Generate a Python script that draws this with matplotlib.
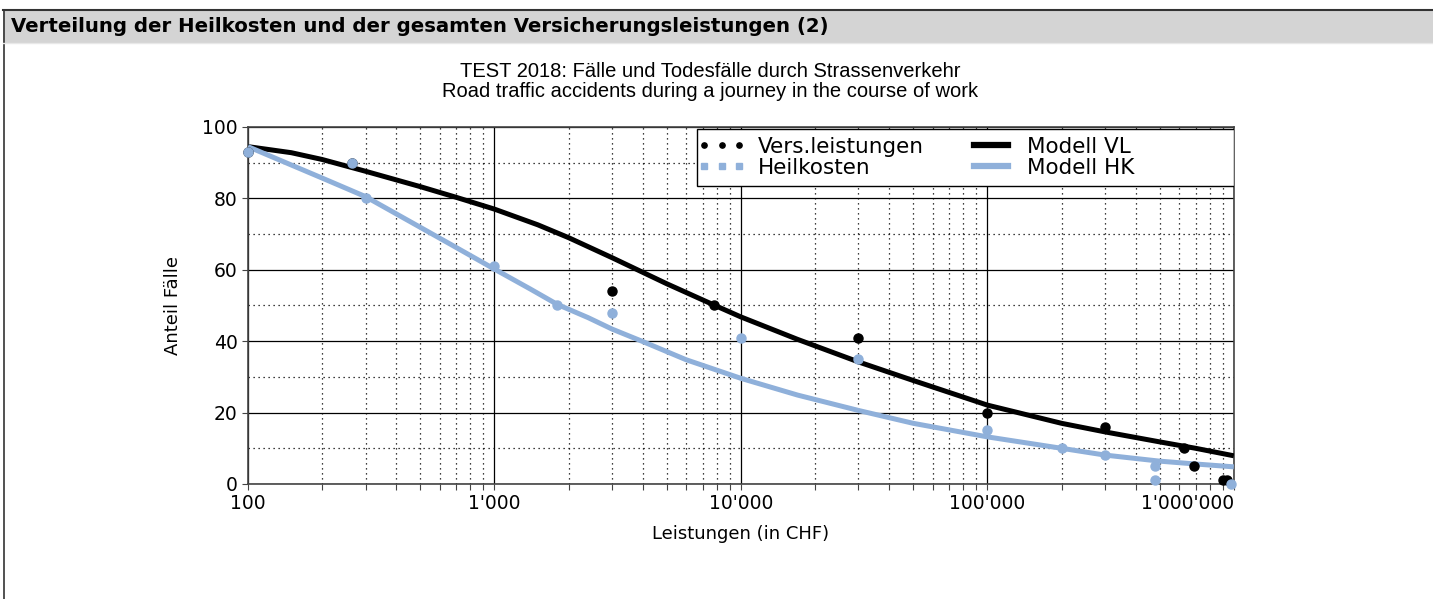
import matplotlib.pyplot as plt
from matplotlib.lines import Line2D
from matplotlib.patches import Rectangle
from matplotlib.ticker import FixedLocator, NullFormatter

# Beobachtete Werte (Anteil Fälle in %)
vl_x = [100, 265, 3000, 7800, 30000, 100000, 300000, 630000, 690000, 900000, 940000]
vl_y = [93, 90, 54, 50, 41, 20, 16, 10, 5, 1, 1]

hk_x = [100, 265, 300, 1000, 1800, 3000, 10000, 30000, 100000, 200000, 300000, 480000, 480000, 970000]
hk_y = [93, 90, 80, 61, 50, 48, 41, 35, 15, 10, 8, 5, 1, 0]

# Modellkurven
mvl_x = [100, 150, 200, 300, 500, 700, 1000, 1500, 2000, 3000, 5000, 7800, 10000, 17000,
         30000, 50000, 100000, 200000, 300000, 500000, 700000, 1000000]
mvl_y = [94.5, 92.8, 90.9, 87.6, 83.3, 80.3, 77.0, 72.6, 69.0, 63.4, 56.1, 50.1, 46.8, 40.5,
         34.2, 29, 22.1, 17, 14.6, 11.8, 10, 7.9]
mhk_x = [100, 200, 300, 650, 1000, 1400, 1800, 2400, 3000, 4000, 6000, 10000, 17000,
         30000, 50000, 100000, 200000, 300000, 500000, 700000, 1000000]
mhk_y = [94.5, 85.7, 80.5, 67.5, 60.2, 54.6, 50.3, 46.6, 43.4, 39.9, 34.8, 29.6, 24.9,
         20.6, 17, 13.2, 10, 8.1, 6.4, 5.6, 4.8]

xticks = [100, 1000, 10000, 100000, 1000000]
xlabels = ["100", "1'000", "10'000", "100'000", "1'000'000"]
yticks = [0, 20, 40, 60, 80, 100]

blue = '#8fb0da'

fig = plt.figure(figsize=(14.33, 5.99), dpi=100)

# Kopfzeile
fig.patches.append(Rectangle((0.002, 0.928), 1.0, 0.055, transform=fig.transFigure,
                             facecolor='#d4d4d4', edgecolor='none'))
fig.add_artist(Line2D([0.002, 1.0], [0.983, 0.983], color='#333333', lw=1.5))
fig.add_artist(Line2D([0.0025, 0.0025], [0.0, 0.983], color='#333333', lw=1.2))
fig.add_artist(Line2D([0.002, 1.0], [0.928, 0.928], color='#e8e8e8', lw=1))
fig.text(0.008, 0.955, "Verteilung der Heilkosten und der gesamten Versicherungsleistungen (2)",
         fontsize=14.2, fontweight='bold', va='center', ha='left', family='DejaVu Sans')

# Diagrammtitel
fig.text(0.4955, 0.880, "TEST 2018: Fälle und Todesfälle durch Strassenverkehr",
         fontsize=14.5, family='Liberation Sans', ha='center', va='center')
fig.text(0.4955, 0.848, "Road traffic accidents during a journey in the course of work",
         fontsize=14.5, family='Liberation Sans', ha='center', va='center')

ax = fig.add_axes([0.173, 0.192, 0.688, 0.596])

ax.plot(mvl_x, mvl_y, color='black', lw=3.6, solid_capstyle='butt', zorder=3)
ax.plot(mhk_x, mhk_y, color=blue, lw=3.6, solid_capstyle='butt', zorder=3)
ax.plot(vl_x, vl_y, 'o', color='black', ms=6.5, zorder=4, clip_on=False)
ax.plot(hk_x, hk_y, 'o', color=blue, ms=6.5, zorder=5, clip_on=False)

ax.set_xscale('log')
ax.set_xlim(100, 1000000)
ax.set_ylim(0, 100)

ax.xaxis.set_major_locator(FixedLocator(xticks))
ax.set_xticklabels(xlabels)
ax.xaxis.set_minor_formatter(NullFormatter())
ax.set_yticks(yticks)
ax.set_yticks([10, 30, 50, 70, 90], minor=True)

ax.grid(which='major', color='black', lw=0.9, ls='-')
ax.grid(which='minor', color='black', lw=0.9, ls=(0, (1, 3)))
ax.set_axisbelow(True)

for s in ax.spines.values():
    s.set_color('#444444')
    s.set_linewidth(1.2)

ax.tick_params(which='both', direction='out', length=4, width=0.8, colors='#444444',
               labelcolor='black', labelsize=13.5)
ax.tick_params(axis='y', which='minor', length=0)
ax.get_xticklabels()[-1].set_ha('right')

ax.set_xlabel("Leistungen (in CHF)", fontsize=13, labelpad=8)
ax.set_ylabel("Anteil Fälle", fontsize=13, labelpad=14)

# Legende mit Rahmen bis zum rechten Rand
ax.add_patch(Rectangle((0.456, 0.835), 0.544, 0.159, transform=ax.transAxes,
                       facecolor='white', edgecolor='black', lw=1.0, zorder=6))
handles = [
    Line2D([], [], ls='none', marker='o', ms=3.8, color='black'),
    Line2D([], [], ls='none', marker='s', ms=3.8, color=blue),
    Line2D([], [], color='black', lw=4.5),
    Line2D([], [], color=blue, lw=4.5),
]
labels = ["Vers.leistungen", "Heilkosten", "Modell VL", "Modell HK"]
leg = ax.legend(handles, labels, ncol=2, loc='upper left', bbox_to_anchor=(0.452, 0.985),
                numpoints=3, fontsize=15.5, frameon=False, borderpad=0.2,
                labelspacing=0.05, handlelength=2.2, handletextpad=0.6,
                columnspacing=2.0, borderaxespad=0.0)
leg.set_zorder(7)

fig.savefig('out.png', dpi=100)
